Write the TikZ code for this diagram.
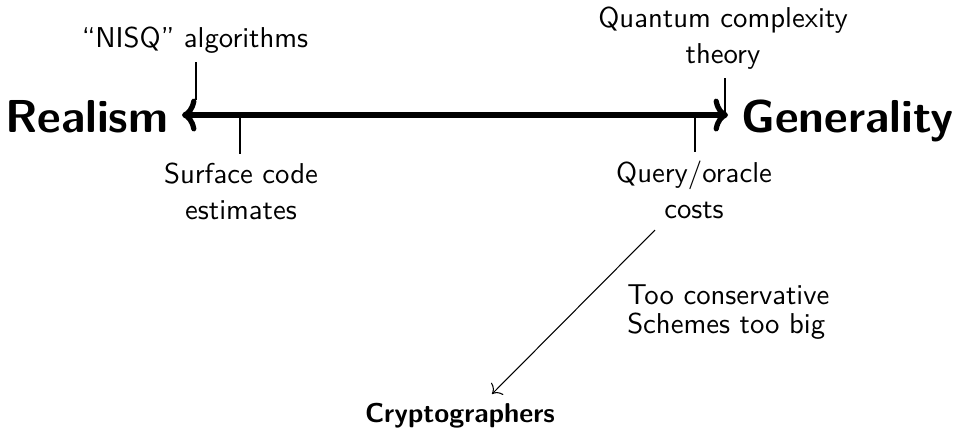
\documentclass[tikz,border=0pt]{standalone}
\usetikzlibrary{arrows.meta}
\begin{document}
\begin{tikzpicture}[x=0.3814pt,y=-0.3814pt,
  every node/.style={font=\sffamily\fontsize{10.95}{13.6}\selectfont},
  big/.style={font=\sffamily\bfseries\fontsize{17.6}{22}\selectfont, inner sep=0pt},
  lbl/.style={align=center, anchor=base},
  tightlbl/.style={align=left, anchor=base west, font=\sffamily\fontsize{10.95}{10.7}\selectfont},
  crypt/.style={anchor=base, font=\sffamily\bfseries\fontsize{10.4}{13}\selectfont},
  tick/.style={line width=0.5pt},
  axis/.style={line width=2pt, {To[length=5.5pt,width=12.5pt]}-{To[length=5.5pt,width=12.5pt]}},
  link/.style={line width=0.4pt, -{To[length=3pt,width=6.5pt]}}]
\useasboundingbox (0,0) rectangle (953,431);
% axis
\node[big, anchor=base east] (real) at (169,132) {Realism};
\node[big, anchor=base west] (gen) at (741,132) {Generality};
\coordinate (L) at (182,115);
\coordinate (R) at (728,115);
\draw[axis] (L) -- (R);
% labels (base anchor = baseline of last line)
\node[lbl] (nisq) at (195,47) {“NISQ”\ algorithms};
\node[lbl] (qct) at (723,63) {Quantum complexity\\theory};
\node[lbl] (surf) at (241,219) {Surface code\\estimates};
\node[lbl] (query) at (694,218) {Query/oracle\\costs};
\node[tightlbl] (cons) at (618,333) {Too conservative\\Schemes too big};
\node[crypt] (cryp) at (460,422) {Cryptographers};
% ticks
\coordinate (t1) at (196,100);
\coordinate (t2) at (240,116);
\coordinate (t3) at (725,113);
\coordinate (t4) at (695,116);
\draw[tick] (nisq.south -| t1) -- (t1);
\draw[tick] (t2) -- (surf.north -| t2);
\draw[tick] (qct.south -| t3) -- (t3);
\draw[tick] (t4) -- (query.north -| t4);
% diagonal arrow
\coordinate (d1) at (655,230);
\coordinate (d2) at (492,394);
\draw[link] (d1) -- (d2);
\end{tikzpicture}
\end{document}
